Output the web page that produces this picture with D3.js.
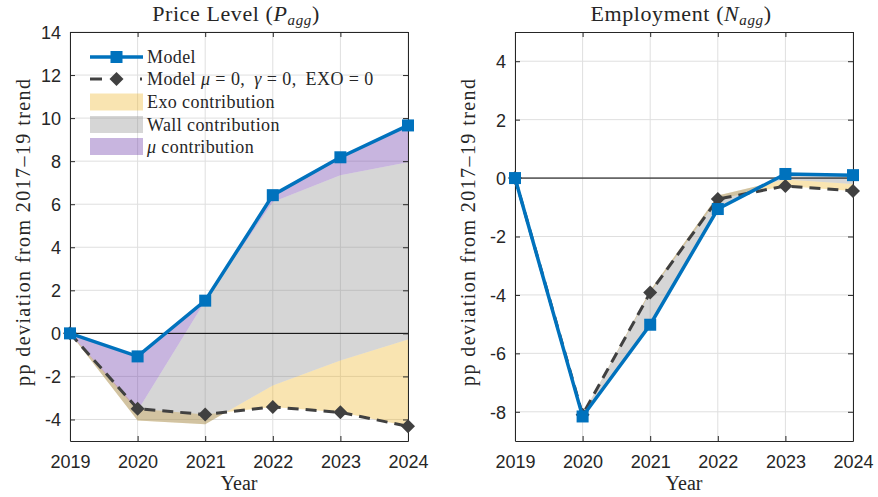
<!DOCTYPE html>
<html>
<head>
<meta charset="utf-8">
<script src="https://cdn.jsdelivr.net/npm/d3@7"></script>
<style>
  html, body { margin: 0; padding: 0; background: #fff; }
  svg text { fill: #262626; }
</style>
</head>
<body>
<svg id="chart" width="878" height="497"></svg>
<script>
// Years on the horizontal axis
const years = [2019, 2020, 2021, 2022, 2023, 2024];

// Price level (pp deviation from 2017-19 trend)
const priceModel   = [0, -1.07, 1.52, 6.42, 8.18, 9.66];
const priceNoShock = [0, -3.50, -3.77, -3.42, -3.67, -4.32];
const priceExo     = [0, -0.55, -0.45, 1.00, 2.41, 4.04];
const priceWall    = [0, 0.45, 5.72, 8.52, 8.61, 8.23];

// Employment (pp deviation from 2017-19 trend)
const empModel   = [0, -8.16, -5.02, -1.06, 0.14, 0.10];
const empNoShock = [0, -8.10, -3.92, -0.72, -0.27, -0.44];
const empExo     = [0, 0.00, 0.07, 0.12, 0.22, 0.24];
const empWall    = [0, -0.05, -1.13, -0.42, 0.15, 0.28];

// Axis ticks
const xTicks = years;
const priceYTicks = [-4, -2, 0, 2, 4, 6, 8, 10, 12, 14];
const empYTicks = [-8, -6, -4, -2, 0, 2, 4];

const C = {
  blue: "#0072BD",
  dash: "#404040",
  exo: "rgba(237,177,32,0.35)",
  wall: "rgba(128,128,128,0.32)",
  mu: "rgba(110,60,170,0.38)",
  grid: "#dfdfdf",
  axis: "#262626"
};
const serif = "'Liberation Serif', 'Times New Roman', serif";
const sans = "'Liberation Sans', Arial, sans-serif";

// square rotated by 45 degrees, ~14px corner to corner
const diamondPath = d3.symbol().type(d3.symbolSquare).size(98)();

const svg = d3.select("#chart");

function panel(opts) {
  const { left, right, top, bottom, yDomain, yTicks, model, base, exo, wall, title, sub } = opts;
  const x = d3.scaleLinear().domain([years[0], years[years.length - 1]]).range([left, right]);
  const y = d3.scaleLinear().domain(yDomain).range([bottom, top]);
  const g = svg.append("g");

  // stacked boundaries: base -> base+exo -> base+exo+wall -> model
  const rows = years.map((yr, i) => {
    const e = base[i] + exo[i];
    const w = e + wall[i];
    return { yr, base: base[i], e, w, model: model[i] };
  });

  // grid lines
  const grid = g.append("g");
  grid.selectAll("line.gx").data(xTicks).join("line")
    .attr("x1", d => x(d)).attr("x2", d => x(d))
    .attr("y1", top).attr("y2", bottom)
    .attr("stroke", C.grid).attr("stroke-width", 1);
  grid.selectAll("line.gy").data(yTicks).join("line")
    .attr("x1", left).attr("x2", right)
    .attr("y1", d => y(d)).attr("y2", d => y(d))
    .attr("stroke", C.grid).attr("stroke-width", 1);

  // contribution bands
  const band = (lo, hi) => d3.area().x(d => x(d.yr)).y0(d => y(d[lo])).y1(d => y(d[hi]));
  g.append("path").datum(rows).attr("d", band("base", "e")).attr("fill", C.exo);
  g.append("path").datum(rows).attr("d", band("e", "w")).attr("fill", C.wall);
  g.append("path").datum(rows).attr("d", band("w", "model")).attr("fill", C.mu);

  // zero line
  g.append("line").attr("x1", left).attr("x2", right)
    .attr("y1", y(0)).attr("y2", y(0))
    .attr("stroke", "#000").attr("stroke-width", 1);

  // axes (box with inward ticks)
  const ax = g.append("g");
  ax.append("g").attr("class", "xb").attr("transform", `translate(0,${bottom})`)
    .call(d3.axisBottom(x).tickValues(xTicks).tickFormat(d3.format("d"))
      .tickSizeInner(-5).tickSizeOuter(0).tickPadding(14));
  ax.append("g").attr("transform", `translate(0,${top})`)
    .call(d3.axisTop(x).tickValues(xTicks).tickSizeInner(-5).tickSizeOuter(0).tickFormat(""));
  ax.append("g").attr("class", "yl").attr("transform", `translate(${left},0)`)
    .call(d3.axisLeft(y).tickValues(yTicks).tickFormat(d => d < 0 ? "-" + Math.abs(d) : String(d))
      .tickSizeInner(-5).tickSizeOuter(0).tickPadding(9));
  ax.append("g").attr("transform", `translate(${right},0)`)
    .call(d3.axisRight(y).tickValues(yTicks).tickSizeInner(-5).tickSizeOuter(0).tickFormat(""));
  ax.selectAll("path.domain").attr("stroke", C.axis).attr("stroke-width", 1);
  ax.selectAll(".tick line").attr("stroke", C.axis);
  ax.selectAll(".tick text")
    .style("font-family", sans).style("font-size", "18px").attr("fill", C.axis);
  ax.select(".yl").selectAll(".tick text").attr("dy", "0.36em");

  // counterfactual (dashed) and model lines
  const line = key => d3.line().x(d => x(d.yr)).y(d => y(d[key]));
  g.append("path").datum(rows).attr("d", line("base"))
    .attr("fill", "none").attr("stroke", C.dash).attr("stroke-width", 3)
    .attr("stroke-dasharray", "11,7");
  g.selectAll("path.dia").data(rows).join("path")
    .attr("transform", d => `translate(${x(d.yr)},${y(d.base)}) rotate(45)`)
    .attr("d", diamondPath).attr("fill", C.dash);

  g.append("path").datum(rows).attr("d", line("model"))
    .attr("fill", "none").attr("stroke", C.blue).attr("stroke-width", 3.5);
  g.selectAll("rect.sq").data(rows).join("rect")
    .attr("x", d => x(d.yr) - 6).attr("y", d => y(d.model) - 6)
    .attr("width", 12).attr("height", 12).attr("fill", C.blue);

  // title
  const cx = (left + right) / 2;
  const t = g.append("text").attr("x", cx - 3).attr("y", 21).attr("text-anchor", "middle")
    .style("font-family", serif).style("font-size", "22px").style("letter-spacing", "0.6px");
  t.append("tspan").text(title + " (");
  t.append("tspan").style("font-style", "italic").text(sub);
  t.append("tspan").style("font-style", "italic").style("font-size", "15px").attr("dy", 4).text("agg");
  t.append("tspan").attr("dy", -4).text(")");

  // axis labels
  g.append("text").attr("x", cx).attr("y", 490).attr("text-anchor", "middle")
    .style("font-family", serif).style("font-size", "20px")
    .text("Year");
  g.append("text")
    .attr("transform", `translate(${left - 40},${(top + bottom) / 2 - 4}) rotate(-90)`)
    .attr("text-anchor", "middle")
    .style("font-family", serif).style("font-size", "20px")
    .attr("textLength", 307).attr("lengthAdjust", "spacing")
    .text("pp deviation from 2017–19 trend");

  return { g, x, y };
}

const P = panel({
  left: 70, right: 408, top: 32, bottom: 441, yDomain: [-5, 14], yTicks: priceYTicks,
  model: priceModel, base: priceNoShock, exo: priceExo, wall: priceWall,
  title: "Price Level", sub: "P"
});
panel({
  left: 515, right: 853, top: 32, bottom: 441, yDomain: [-9, 5], yTicks: empYTicks,
  model: empModel, base: empNoShock, exo: empExo, wall: empWall,
  title: "Employment", sub: "N"
});

// legend in the price panel
const lg = P.g.append("g");
const rowY = [57, 79, 102, 124.5, 146.5];
const sx0 = 90, sx1 = 143, tx = 147;
lg.append("line").attr("x1", sx0).attr("x2", sx1).attr("y1", rowY[0]).attr("y2", rowY[0])
  .attr("stroke", C.blue).attr("stroke-width", 3.5);
lg.append("rect").attr("x", 110.5).attr("y", rowY[0] - 6).attr("width", 12).attr("height", 12).attr("fill", C.blue);
lg.append("line").attr("x1", sx0).attr("x2", 102).attr("y1", rowY[1]).attr("y2", rowY[1])
  .attr("stroke", C.dash).attr("stroke-width", 3);
lg.append("line").attr("x1", 140).attr("x2", 142).attr("y1", rowY[1]).attr("y2", rowY[1])
  .attr("stroke", C.dash).attr("stroke-width", 3);
lg.append("path").attr("transform", `translate(116.5,${rowY[1]}) rotate(45)`)
  .attr("d", diamondPath).attr("fill", C.dash);
[[C.exo, 2], [C.wall, 3], [C.mu, 4]].forEach(([c, i]) => {
  lg.append("rect").attr("x", sx0).attr("y", rowY[i] - 8.5).attr("width", sx1 - sx0).attr("height", 17).attr("fill", c);
});
const lt = (i) => lg.append("text").attr("x", tx).attr("y", rowY[i] + 6)
  .style("font-family", serif).style("font-size", "18px").style("letter-spacing", "0.4px");
lt(0).text("Model");
const l1 = lt(1);
l1.append("tspan").text("Model ");
l1.append("tspan").style("font-style", "italic").text("μ");
l1.append("tspan").attr("dx", 5).text("=");
l1.append("tspan").attr("dx", 5).text("0,");
l1.append("tspan").attr("dx", 9).style("font-style", "italic").text("γ");
l1.append("tspan").attr("dx", 5).text("=");
l1.append("tspan").attr("dx", 5).text("0,");
l1.append("tspan").attr("dx", 9).text("EXO");
l1.append("tspan").attr("dx", 5).text("=");
l1.append("tspan").attr("dx", 5).text("0");
lt(2).text("Exo contribution");
lt(3).text("Wall contribution");
const l4 = lt(4);
l4.append("tspan").style("font-style", "italic").text("μ");
l4.append("tspan").text(" contribution");
</script>
</body>
</html>
